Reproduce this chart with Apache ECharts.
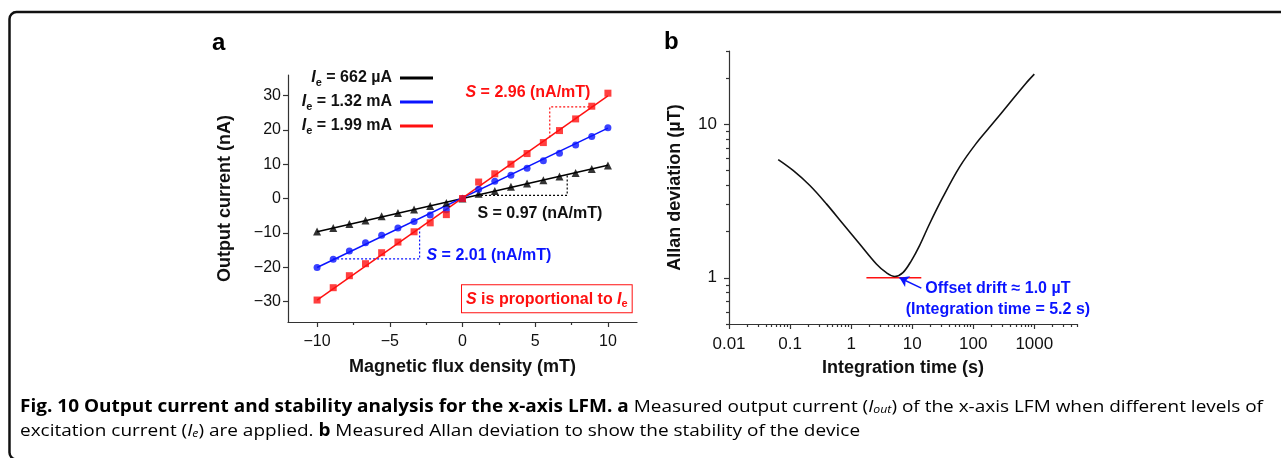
<!DOCTYPE html>
<html><head><meta charset="utf-8">
<script src="https://cdn.jsdelivr.net/npm/echarts@6/dist/echarts.min.js"></script>
<style>html,body{margin:0;padding:0;background:#fff}#c{width:1281px;height:458px}</style>
</head><body><div id="c"></div>
<script>
// ---------- Panel a data ----------
const fluxX = [-10,-8.89,-7.78,-6.67,-5.56,-4.44,-3.33,-2.22,-1.11,0,1.11,2.22,3.33,4.44,5.56,6.67,7.78,8.89,10];
const currentLow  = [-9.6,-8.6,-7.4,-6.4,-5.2,-4.2,-3.2,-2.2,-1.3,0,1.4,2.2,3.4,4.4,5.3,6.4,7.4,8.6,9.6];
const currentMid  = [-20.1,-17.7,-15.3,-12.9,-10.7,-8.6,-6.7,-4.8,-3.3,0,2.7,5.0,6.8,8.8,11.0,13.2,15.6,18.1,20.6];
const currentHigh = [-29.6,-26.0,-22.5,-19.0,-15.8,-12.7,-9.7,-7.1,-4.7,0,4.8,7.2,10.0,13.1,16.3,19.8,23.2,26.9,30.7];
const fitX = [-10, 10];
const fitLow = [-9.7, 9.7];
const fitMid = [-20.1, 20.5];
const fitHigh = [-29.6, 29.9];
const seriesNames = ['Ie = 662 µA', 'Ie = 1.32 mA', 'Ie = 1.99 mA'];
const slopeHighX = [6.0, 6.0, 8.9],  slopeHighY = [17.8, 26.7, 26.7];
const slopeLowX  = [1.0, 7.2, 7.2],  slopeLowY  = [0.9, 0.9, 6.8];
const slopeMidX  = [-8.9, -2.95, -2.95], slopeMidY = [-17.6, -17.6, -8.6];
const xTicksA = [-10, -5, 0, 5, 10];
const xMinorA = [-7.5, -2.5, 2.5, 7.5];
const yTicksA = [-30, -20, -10, 0, 10, 20, 30];

// ---------- Panel b data ----------
const tau  = [0.064,0.112,0.211,0.394,0.738,1.38,2.59,3.77,5.2,7.05,9.67,13.2,19.2,31.8,59.5,111,208,391,731,1000];
const adev = [5.88,5.0,3.99,3.03,2.24,1.66,1.23,1.08,1.02,1.08,1.29,1.62,2.24,3.35,5.26,7.48,10.1,13.7,18.5,21.2];
const driftX = [1.78, 14.1], driftY = [1.0, 1.0];
const arrowFrom = [14.1, 0.857], arrowTo = [6.2, 1.0];
const xTicksB = [0.01, 0.1, 1, 10, 100, 1000];
const yTicksB = [1, 10];

const FONT = '"Liberation Sans", Arial, sans-serif';
const zip = (xs, ys) => xs.map((x, i) => [x, ys[i]]);
const fmtNum = v => { const n = +(+v).toPrecision(6); return (n < 0 ? '\u2212' : '') + Math.abs(n); };

// minor log ticks (axis decoration only)
const minorLog = (lo, hi) => { const out = []; for (let e = -3; e <= 4; e++) for (let k = 2; k <= 9; k++) { const v = +(k * Math.pow(10, e)).toPrecision(6); if (v >= lo && v <= hi) out.push(v); } return out; };
const xMinorB = minorLog(0.01, 5000);
const yMinorB = minorLog(0.5, 30);

const lineCol = '#333';
function mainAxis(o) {
  return Object.assign({
    axisLine: { show: true, onZero: false, lineStyle: { color: lineCol, width: 1.2 } },
    axisTick: { show: true, length: 5, lineStyle: { color: lineCol, width: 1.2 } },
    splitLine: { show: false },
    nameTextStyle: { fontFamily: FONT, fontWeight: 'bold', fontSize: 18, color: '#111' },
    nameLocation: 'middle'
  }, o);
}
function minorAxis(o) {
  return Object.assign({
    axisLine: { show: false, onZero: false },
    axisLabel: { show: false },
    splitLine: { show: false }
  }, o);
}
const tickLbl = (vals, size, margin) => ({ customValues: vals, fontFamily: FONT, fontSize: size, color: '#111', margin: margin, formatter: fmtNum });

const richBase = (col) => ({
  it: { fontStyle: 'italic', fontWeight: 'bold', fontSize: 16, fontFamily: FONT, color: col, lineHeight: 20 },
  n:  { fontWeight: 'bold', fontSize: 16, fontFamily: FONT, color: col, lineHeight: 20 },
  s:  { fontWeight: 'bold', fontSize: 11, fontFamily: FONT, color: col, verticalAlign: 'bottom', lineHeight: 13 }
});
function annot(coord, text, col, extra) {
  return { coord: coord, symbolSize: 0, label: Object.assign({ show: true, position: 'inside', formatter: text, rich: richBase(col), color: col, fontWeight: 'bold', fontSize: 16, fontFamily: FONT }, extra || {}) };
}

const option = {
  animation: false,
  backgroundColor: '#fff',
  grid: [
    { left: 288, top: 75, width: 349, height: 247 },
    { left: 729, top: 51, width: 348, height: 273 }
  ],
  xAxis: [
    mainAxis({ gridIndex: 0, type: 'value', min: -12, max: 12, position: 'bottom', name: 'Magnetic flux density (mT)', nameGap: 36,
      axisTick: { show: true, length: 5, customValues: xTicksA, lineStyle: { color: lineCol, width: 1.2 } },
      axisLabel: tickLbl(xTicksA, 16, 12) }),
    minorAxis({ gridIndex: 0, type: 'value', min: -12, max: 12, position: 'bottom',
      axisTick: { show: true, length: 3, customValues: xMinorA, lineStyle: { color: lineCol, width: 1.2 } } }),
    mainAxis({ gridIndex: 1, type: 'log', logBase: 10, min: 0.01, max: 5000, position: 'bottom', name: 'Integration time (s)', nameGap: 35,
      axisTick: { show: true, length: 5, customValues: xTicksB, lineStyle: { color: lineCol, width: 1.2 } },
      axisLabel: tickLbl(xTicksB, 17, 12) }),
    minorAxis({ gridIndex: 1, type: 'log', logBase: 10, min: 0.01, max: 5000, position: 'bottom',
      axisTick: { show: true, length: 3, customValues: xMinorB, lineStyle: { color: lineCol, width: 1.2 } } })
  ],
  yAxis: [
    mainAxis({ gridIndex: 0, type: 'value', min: -36, max: 36, position: 'left', name: 'Output current (nA)', nameGap: 54, nameRotate: 90,
      axisTick: { show: true, length: 5, customValues: yTicksA, lineStyle: { color: lineCol, width: 1.2 } },
      axisLabel: tickLbl(yTicksA, 16, 7) }),
    mainAxis({ gridIndex: 1, type: 'log', logBase: 10, min: 0.5, max: 30, position: 'left', name: 'Allan deviation (µT)', nameGap: 45, nameRotate: 90,
      axisTick: { show: true, length: 5, customValues: yTicksB, lineStyle: { color: lineCol, width: 1.2 } },
      axisLabel: tickLbl(yTicksB, 17, 12) }),
    minorAxis({ gridIndex: 1, type: 'log', logBase: 10, min: 0.5, max: 30, position: 'left',
      axisTick: { show: true, length: 3, customValues: yMinorB, lineStyle: { color: lineCol, width: 1.2 } } })
  ],
  legend: {
    orient: 'vertical', right: 843, top: 65, align: 'right', icon: 'rect', itemWidth: 33, itemHeight: 3, itemGap: 6,
    selectedMode: false, data: seriesNames,
    formatter: name => name.replace('Ie', '{it|I}{s|e}').replace(/^(.*?\{s\|e\})(.*)$/, '$1{n|$2}'),
    textStyle: { fontFamily: FONT, fontWeight: 'bold', fontSize: 16, color: '#111', padding: [0, 3, 0, 0], rich: richBase('#111') }
  },
  series: [
    { name: seriesNames[0], type: 'line', xAxisIndex: 0, yAxisIndex: 0, data: zip(fitX, fitLow), symbol: 'none', color: '#000', lineStyle: { width: 1.5, color: '#000' }, z: 2 },
    { name: seriesNames[1], type: 'line', xAxisIndex: 0, yAxisIndex: 0, data: zip(fitX, fitMid), symbol: 'none', color: '#0a14ff', lineStyle: { width: 1.5, color: '#0a14ff' }, z: 2 },
    { name: seriesNames[2], type: 'line', xAxisIndex: 0, yAxisIndex: 0, data: zip(fitX, fitHigh), symbol: 'none', color: '#ff1010', lineStyle: { width: 1.5, color: '#ff1010' }, z: 2 },
    { name: 'lowPts', type: 'scatter', xAxisIndex: 0, yAxisIndex: 0, data: zip(fluxX, currentLow), symbol: 'triangle', symbolSize: 8, itemStyle: { color: '#000' }, z: 3 },
    { name: 'midPts', type: 'scatter', xAxisIndex: 0, yAxisIndex: 0, data: zip(fluxX, currentMid), symbol: 'circle', symbolSize: 7, itemStyle: { color: '#0a14ff' }, z: 3 },
    { name: 'highPts', type: 'scatter', xAxisIndex: 0, yAxisIndex: 0, data: zip(fluxX, currentHigh), symbol: 'rect', symbolSize: 7, itemStyle: { color: '#ff1010' }, z: 4 },
    { name: 'slopeHigh', type: 'line', xAxisIndex: 0, yAxisIndex: 0, data: zip(slopeHighX, slopeHighY), symbol: 'none', lineStyle: { width: 1.2, type: [2, 2], color: '#ff1010' }, z: 1,
      markPoint: { silent: true, data: [
        annot([4.5, 30.8], '{it|S}{n| = 2.96 (nA/mT)}', '#ff1010'),
        annot([5.8, -29.2], '{it|S}{n| is proportional to }{it|I}{s|e}', '#ff1010', { borderColor: '#ff1010', borderWidth: 1, padding: [4, 4, 3, 4], backgroundColor: '#fff' })
      ] } },
    { name: 'slopeLow', type: 'line', xAxisIndex: 0, yAxisIndex: 0, data: zip(slopeLowX, slopeLowY), symbol: 'none', lineStyle: { width: 1.2, type: [2, 2], color: '#000' }, z: 1,
      markPoint: { silent: true, data: [ annot([5.32, -4.36], '{n|S = 0.97 (nA/mT)}', '#111') ] } },
    { name: 'slopeMid', type: 'line', xAxisIndex: 0, yAxisIndex: 0, data: zip(slopeMidX, slopeMidY), symbol: 'none', lineStyle: { width: 1.2, type: [2, 2], color: '#0a14ff' }, z: 1,
      markPoint: { silent: true, data: [ annot([1.82, -16.6], '{it|S}{n| = 2.01 (nA/mT)}', '#0a14ff') ] } },
    { name: 'allan', type: 'line', xAxisIndex: 2, yAxisIndex: 1, data: zip(tau, adev), symbol: 'none', smooth: 0.35, lineStyle: { width: 1.6, color: '#111' }, z: 3 },
    { name: 'drift', type: 'line', xAxisIndex: 2, yAxisIndex: 1, data: zip(driftX, driftY), symbol: 'none', lineStyle: { width: 1.6, color: '#ff1010' }, z: 2,
      markLine: { silent: true, symbol: ['none', 'arrow'], symbolSize: 9, label: { show: false }, lineStyle: { color: '#0a14ff', width: 1.5, type: 'solid' },
        data: [[{ coord: arrowFrom }, { coord: arrowTo }]] },
      markPoint: { silent: true, data: [
        annot([253, 0.847], '{n|Offset drift \u2248 1.0 µT}', '#0a14ff'),
        annot([253, 0.618], '{n|(Integration time = 5.2 s)}', '#0a14ff')
      ] } }
  ]
};

// caption text
const CAP_FONT = '"Open Sans", sans-serif';
const capSize = 17;
const capRich = {
  b:  { fontFamily: CAP_FONT, fontWeight: 'bold', fontSize: capSize, color: '#1a1a1a' },
  r:  { fontFamily: CAP_FONT, fontWeight: 'normal', fontSize: capSize, color: '#3a3a3a' },
  ri: { fontFamily: CAP_FONT, fontStyle: 'italic', fontSize: capSize, color: '#3a3a3a' },
  rs: { fontFamily: CAP_FONT, fontStyle: 'italic', fontSize: 11, color: '#3a3a3a', verticalAlign: 'bottom', lineHeight: 14 }
};
const cap1 = [['b','Fig. 10 Output current and stability analysis for the x-axis LFM. a'],['r',' Measured output current ('],['ri','I'],['rs','out'],['r',') of the x-axis LFM when different levels of']];
const cap2 = [['r','excitation current ('],['ri','I'],['rs','e'],['r',') are applied. '],['b','b'],['r',' Measured Allan deviation to show the stability of the device']];
const ctx = document.createElement('canvas').getContext('2d');
function measure(parts) {
  let w = 0;
  parts.forEach(([k, t]) => { const s = capRich[k]; ctx.font = (s.fontStyle || 'normal') + ' ' + (s.fontWeight || 'normal') + ' ' + s.fontSize + 'px ' + s.fontFamily; w += ctx.measureText(t).width; });
  return w;
}
const capScale = 1243 / measure(cap1);
const toRich = parts => parts.map(([k, t]) => '{' + k + '|' + t + '}').join('');

option.graphic = [
  { type: 'rect', shape: { x: 9.5, y: 12, width: 1300, height: 447.5, r: 7 }, style: { fill: 'none', stroke: '#111', lineWidth: 2.5 }, silent: true },
  { type: 'text', x: 212, y: 43, style: { text: 'a', font: 'bold 24px ' + FONT, fill: '#000', textVerticalAlign: 'middle' } },
  { type: 'text', x: 664, y: 42, style: { text: 'b', font: 'bold 24px ' + FONT, fill: '#000', textVerticalAlign: 'middle' } },
  { type: 'text', x: 20, y: 407, scaleX: capScale, style: { text: toRich(cap1), rich: capRich, verticalAlign: 'middle' } },
  { type: 'text', x: 20, y: 431, scaleX: capScale, style: { text: toRich(cap2), rich: capRich, verticalAlign: 'middle' } }
];

const chart = echarts.init(document.getElementById('c'), null, { renderer: 'canvas', width: 1281, height: 458 });
chart.setOption(option);
</script></body></html>
